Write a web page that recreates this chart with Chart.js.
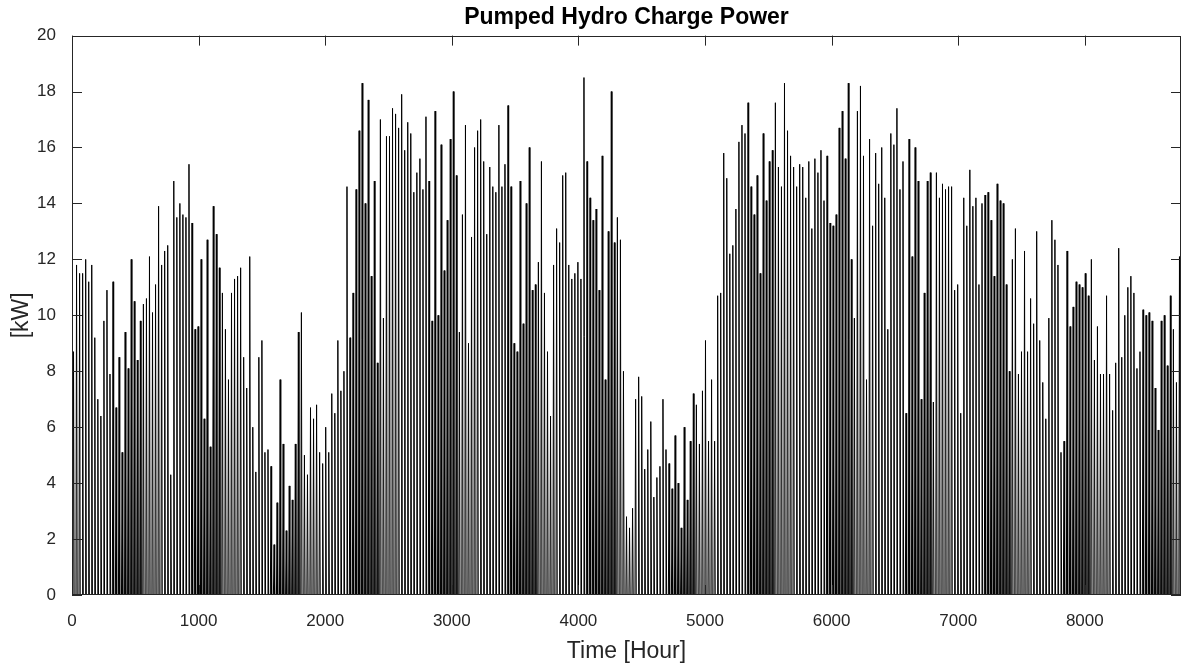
<!DOCTYPE html>
<html>
<head>
<meta charset="utf-8">
<script src="https://cdn.jsdelivr.net/npm/chart.js@4/dist/chart.umd.min.js"></script>
<style>
  body { margin: 0; background: #fff; }
  #wrap { width: 1182px; height: 666px; }
</style>
</head>
<body>
<div id="wrap"><canvas id="chargeChart"></canvas></div>
<script>
// daily peak of the charge power [kW], one value per day of the year
const dailyPeakKW = [
  8.7, 11.8, 11.5, 11.5, 12.0, 11.2, 11.8, 9.2, 7.0, 6.4, 9.8, 10.9, 7.9, 11.2, 6.7, 8.5, 5.1, 9.4, 8.1, 12.0, 10.5, 8.4, 9.8, 10.4, 10.6, 12.1, 10.1, 11.1, 13.9, 11.8, 12.3,
  12.5, 4.3, 14.8, 13.5, 14.0, 13.6, 13.5, 15.4, 13.3, 9.5, 9.6, 12.0, 6.3, 12.7, 5.3, 13.9, 12.9, 11.7, 10.8, 9.5, 7.7, 10.8, 11.3, 11.4, 11.7, 8.5, 7.4, 12.1, 6.0, 4.4,
  8.5, 9.1, 5.1, 5.2, 4.6, 1.8, 3.3, 7.7, 5.4, 2.3, 3.9, 3.4, 5.4, 9.4, 10.1, 5.0, 4.3, 6.7, 6.3, 6.8, 5.1, 4.7, 6.0, 5.1, 7.2, 6.5, 9.1, 7.3, 8.0, 14.6,
  9.2, 10.8, 14.5, 16.6, 18.3, 14.0, 17.7, 11.4, 14.8, 8.3, 17.0, 9.9, 16.4, 16.4, 17.4, 17.2, 16.7, 17.9, 15.9, 16.9, 16.5, 14.4, 15.1, 15.6, 14.5, 17.1, 14.8, 9.8, 17.3, 10.0, 16.1,
  11.6, 13.4, 16.3, 18.0, 15.0, 9.4, 13.6, 16.8, 9.0, 12.8, 16.0, 16.6, 17.0, 15.5, 12.9, 15.3, 14.6, 14.4, 16.8, 14.6, 15.4, 17.5, 14.6, 9.0, 8.7, 14.8, 9.7, 14.0, 16.0, 10.9,
  11.1, 11.9, 15.5, 10.8, 8.7, 6.4, 11.8, 13.1, 12.6, 15.0, 15.1, 11.8, 11.3, 11.5, 11.9, 11.3, 18.5, 15.5, 14.2, 13.4, 13.8, 10.9, 15.7, 7.7, 13.0, 18.0, 12.6, 13.5, 12.7, 8.0,
  2.8, 2.4, 3.1, 7.0, 7.8, 7.1, 4.5, 5.2, 6.2, 3.5, 4.2, 4.6, 7.0, 5.2, 4.7, 3.8, 5.7, 4.0, 2.4, 6.0, 3.4, 5.5, 7.2, 6.8, 5.4, 7.3, 9.1, 5.5, 7.7, 5.5, 10.7,
  10.8, 15.8, 14.9, 12.2, 12.5, 13.8, 16.2, 16.8, 16.5, 17.6, 14.6, 13.6, 15.0, 11.5, 16.5, 14.1, 15.5, 15.9, 17.6, 15.3, 14.6, 18.3, 16.6, 15.7, 15.3, 14.6, 15.4, 15.3, 14.2, 15.5,
  13.1, 15.6, 15.1, 15.9, 14.1, 15.7, 13.3, 13.2, 13.6, 16.7, 17.3, 15.6, 18.3, 12.0, 9.9, 17.3, 18.2, 15.7, 7.7, 16.3, 13.2, 15.8, 14.7, 16.0, 14.2, 9.5, 16.5, 16.1, 17.4, 14.5,
  15.5, 6.5, 16.3, 12.1, 16.0, 14.8, 7.0, 10.8, 14.8, 15.1, 6.9, 15.1, 14.2, 14.7, 14.5, 14.6, 14.6, 10.9, 11.1, 6.5, 14.2, 13.2, 15.2, 13.9, 14.2, 11.1, 14.0, 14.3, 14.4, 13.4,
  11.4, 14.7, 14.1, 14.0, 11.1, 8.0, 12.0, 13.1, 7.9, 8.7, 12.3, 8.7, 10.6, 9.7, 13.0, 9.1, 7.6, 6.3, 9.9, 13.4, 12.7, 11.8, 5.1, 5.5, 12.3, 9.6, 10.3, 11.2, 11.1, 11.0,
  11.5, 10.7, 12.0, 8.4, 9.6, 7.9, 7.9, 10.7, 7.9, 6.6, 8.3, 12.4, 8.5, 10.0, 11.0, 11.4, 10.8, 8.1, 8.7, 10.2, 10.0, 10.1, 9.8, 7.4, 5.9, 9.8, 10.0, 8.2, 10.7, 9.5, 7.6, 12.1
];
const xTicks = [0, 1000, 2000, 3000, 4000, 5000, 6000, 7000, 8000];
const yTicks = [0, 2, 4, 6, 8, 10, 12, 14, 16, 18, 20];

// charging happens around midday, so each day is a spike: 0 -> peak -> 0
const chargeSeries = [];
dailyPeakKW.forEach((p, d) => {
  const h = d * 24;
  chargeSeries.push({ x: h + 7, y: 0 }, { x: h + 12, y: p }, { x: h + 17, y: 0 });
});

const axisColor = '#262626';

// matlab style box with ticks pointing inwards
const boxPlugin = {
  id: 'box',
  afterDraw(chart) {
    const { ctx, chartArea: a, scales } = chart;
    ctx.save();
    ctx.strokeStyle = axisColor;
    ctx.lineWidth = 1;
    ctx.strokeRect(Math.round(a.left) + 0.5, Math.round(a.top) + 0.5,
      Math.round(a.right - a.left) - 1, Math.round(a.bottom - a.top) - 1);
    ctx.beginPath();
    xTicks.forEach(v => {
      const px = Math.round(scales.x.getPixelForValue(v)) + 0.5;
      ctx.moveTo(px, a.bottom); ctx.lineTo(px, a.bottom - 10);
      ctx.moveTo(px, a.top); ctx.lineTo(px, a.top + 10);
    });
    yTicks.forEach(v => {
      const py = Math.round(scales.y.getPixelForValue(v)) + 0.5;
      ctx.moveTo(a.left, py); ctx.lineTo(a.left + 10, py);
      ctx.moveTo(a.right, py); ctx.lineTo(a.right - 10, py);
    });
    ctx.stroke();
    ctx.restore();
  }
};

new Chart(document.getElementById('chargeChart'), {
  type: 'line',
  data: {
    datasets: [{
      data: chargeSeries,
      borderColor: '#000',
      borderWidth: 1,
      pointRadius: 0,
      tension: 0,
      fill: false
    }]
  },
  options: {
    responsive: true,
    maintainAspectRatio: false,
    animation: false,
    layout: { padding: { left: 0, right: 1, top: 0, bottom: 0 } },
    plugins: {
      legend: { display: false },
      tooltip: { enabled: false },
      title: {
        display: true,
        fullSize: false, // centred over the axes like matlab
        text: 'Pumped Hydro Charge Power',
        color: '#000',
        font: { family: 'Liberation Sans', size: 23, weight: 'bold' },
        padding: { top: 4, bottom: 4 }
      }
    },
    scales: {
      x: {
        type: 'linear',
        min: 0,
        max: 8760,
        afterBuildTicks: s => { s.ticks = xTicks.map(v => ({ value: v })); },
        afterFit: s => { s.height = 71; },
        grid: { display: false },
        border: { display: false },
        ticks: {
          color: axisColor,
          font: { family: 'Liberation Sans', size: 17 },
          padding: 8,
          maxRotation: 0,
          callback: v => String(v)
        },
        title: {
          display: true,
          text: 'Time [Hour]',
          color: axisColor,
          font: { family: 'Liberation Sans', size: 23 },
          padding: { top: 0, bottom: 1 }
        }
      },
      y: {
        min: 0,
        max: 20,
        afterBuildTicks: s => { s.ticks = yTicks.map(v => ({ value: v })); },
        afterFit: s => { s.width = 72; },
        grid: { display: false },
        border: { display: false },
        ticks: {
          color: axisColor,
          font: { family: 'Liberation Sans', size: 17 },
          padding: 8,
          callback: v => String(v)
        },
        title: {
          display: true,
          text: '[kW]',
          color: axisColor,
          font: { family: 'Liberation Sans', size: 23 },
          padding: { top: 8, bottom: 0 }
        }
      }
    }
  },
  plugins: [boxPlugin]
});
</script>
</body>
</html>
